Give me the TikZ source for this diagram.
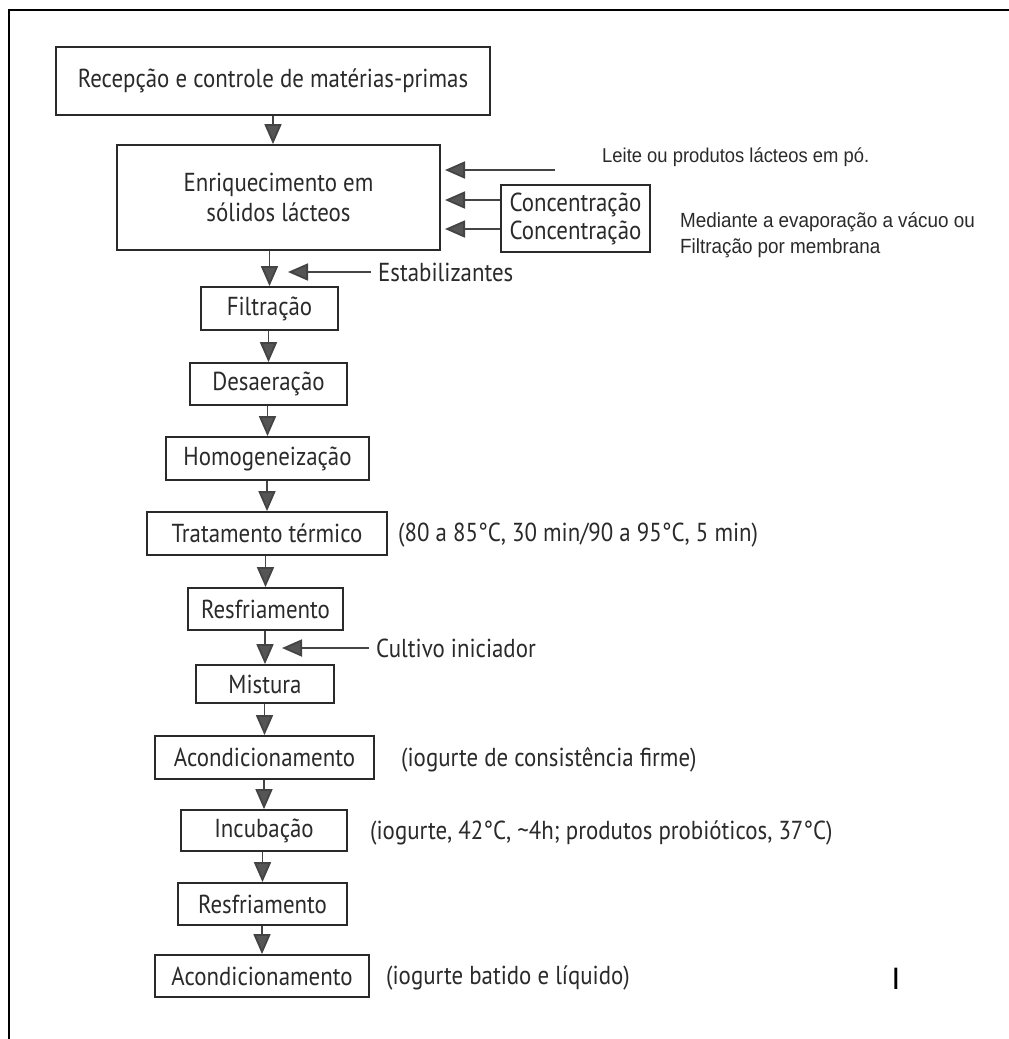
\documentclass[tikz,border=0pt]{standalone}
\usepackage{fontspec}
\setmainfont{PT Sans}[FakeStretch=0.88]
\newfontfamily\arialf{Liberation Sans}[FakeStretch=0.92]
\newfontfamily\arialplain{Liberation Sans}
\usetikzlibrary{arrows.meta}
\definecolor{inkc}{HTML}{2A2A2A}
\definecolor{arrc}{HTML}{555555}
\tikzset{
  stepbox/.style={draw=inkc, line width=1.8pt, inner sep=0pt, text=inkc, align=center,
    font=\fontsize{26}{30}\selectfont},
  lbl/.style={inner sep=0pt, text=inkc, anchor=west, font=\fontsize{26}{30}\selectfont},
  small/.style={inner sep=0pt, text=inkc, anchor=west, align=left, font=\arialf\fontsize{20.5}{26}\selectfont},
  arr/.style={draw=arrc!80!black, line width=1.8pt, -{Triangle[length=20pt,width=17pt,fill=arrc]}},
}
\begin{document}
\begin{tikzpicture}[x=1pt,y=-1pt]
\useasboundingbox (0,0) rectangle (1009,1039);
\fill[white] (0,0) rectangle (1009,1039);
% frame
\draw[line width=2.5pt, black] (9,1039) -- (9,10) -- (1009,10);
% boxes
\node[stepbox, minimum width=434pt, minimum height=68pt] (rec) at (273,81) {Recepção e controle de matérias-primas};
\node[stepbox, minimum width=323pt, minimum height=105pt] (enr) at (278.5,197.5) {Enriquecimento em\\sólidos lácteos};
\node[stepbox, minimum width=137pt, minimum height=43pt] (fil) at (269.5,308.5) {Filtração};
\node[stepbox, minimum width=157pt, minimum height=42pt] (des) at (268.5,384) {Desaeração};
\node[stepbox, minimum width=203pt, minimum height=43pt] (hom) at (267.5,458.5) {Homogeneização};
\node[stepbox, minimum width=240pt, minimum height=43pt] (tra) at (267,533.5) {Tratamento térmico};
\node[stepbox, minimum width=155pt, minimum height=42pt] (res1) at (265.5,609) {Resfriamento};
\node[stepbox, minimum width=138pt, minimum height=38pt] (mis) at (265,684) {Mistura};
\node[stepbox, minimum width=219pt, minimum height=43pt] (aco1) at (264.5,757.5) {Acondicionamento};
\node[stepbox, minimum width=166pt, minimum height=41pt] (inc) at (264,830.5) {Incubação};
\node[stepbox, minimum width=169pt, minimum height=42pt] (res2) at (262.5,904) {Resfriamento};
\node[stepbox, minimum width=214pt, minimum height=42pt] (aco2) at (262,976) {Acondicionamento};
\node[stepbox, minimum width=149pt, minimum height=67pt, font=\fontsize{26}{28}\selectfont] (conc) at (575.5,218.5) {Concentração\\Concentração};
% side labels
\node[small, font=\arialf\fontsize{20}{26}\selectfont] (leite) at (602,157) {Leite ou produtos lácteos em pó.};
\node[small] (medi) at (680,235) {Mediante a evaporação a vácuo ou\\Filtração por membrana};
\node[lbl] (estab) at (378,272) {Estabilizantes};
\node[lbl] (cult) at (376,648) {Cultivo iniciador};
\node[lbl] (tratl) at (398,535) {(80 a 85°C, 30 min/90 a 95°C, 5 min)};
\node[lbl] (aco1l) at (401,760) {(iogurte de consistência firme)};
\node[lbl] (incl) at (370,833) {(iogurte, 42°C, \textasciitilde4h; produtos probióticos, 37°C)};
\node[lbl] (aco2l) at (386,978) {(iogurte batido e líquido)};
\node[inner sep=0pt, font=\arialplain\fontsize{31}{31}\selectfont, text=black] (mark) at (896,979) {I};
% coordinates
\coordinate (leitestart) at (555,170);
\coordinate (enrA) at (445,170);
\coordinate (estabtip) at (288,272);
\coordinate (culttip) at (282,648);
% arrows
\draw[arr] (rec.south) -- (rec.south |- enr.north);
\draw[arr] (leitestart) -- (enrA);
\draw[arr] (conc.west |- 0,200) -- (445,200);
\draw[arr] (conc.west |- 0,229) -- (445,229);
\draw[arr] ([xshift=-7pt]estab.west) -- (estabtip);
\draw[arr] ([xshift=-7pt]cult.west) -- (culttip);
\draw[arr] (fil.north |- enr.south) -- (fil.north);
\draw[arr] (des.north |- fil.south) -- (des.north);
\draw[arr] (hom.north |- des.south) -- (hom.north);
\draw[arr] (tra.north |- hom.south) -- (tra.north);
\draw[arr] (res1.north |- tra.south) -- (res1.north);
\draw[arr] (mis.north |- res1.south) -- (mis.north);
\draw[arr] (aco1.north |- mis.south) -- (aco1.north);
\draw[arr] (inc.north |- aco1.south) -- (inc.north);
\draw[arr] (res2.north |- inc.south) -- (res2.north);
\draw[arr] (aco2.north |- res2.south) -- (aco2.north);
\end{tikzpicture}
\end{document}
